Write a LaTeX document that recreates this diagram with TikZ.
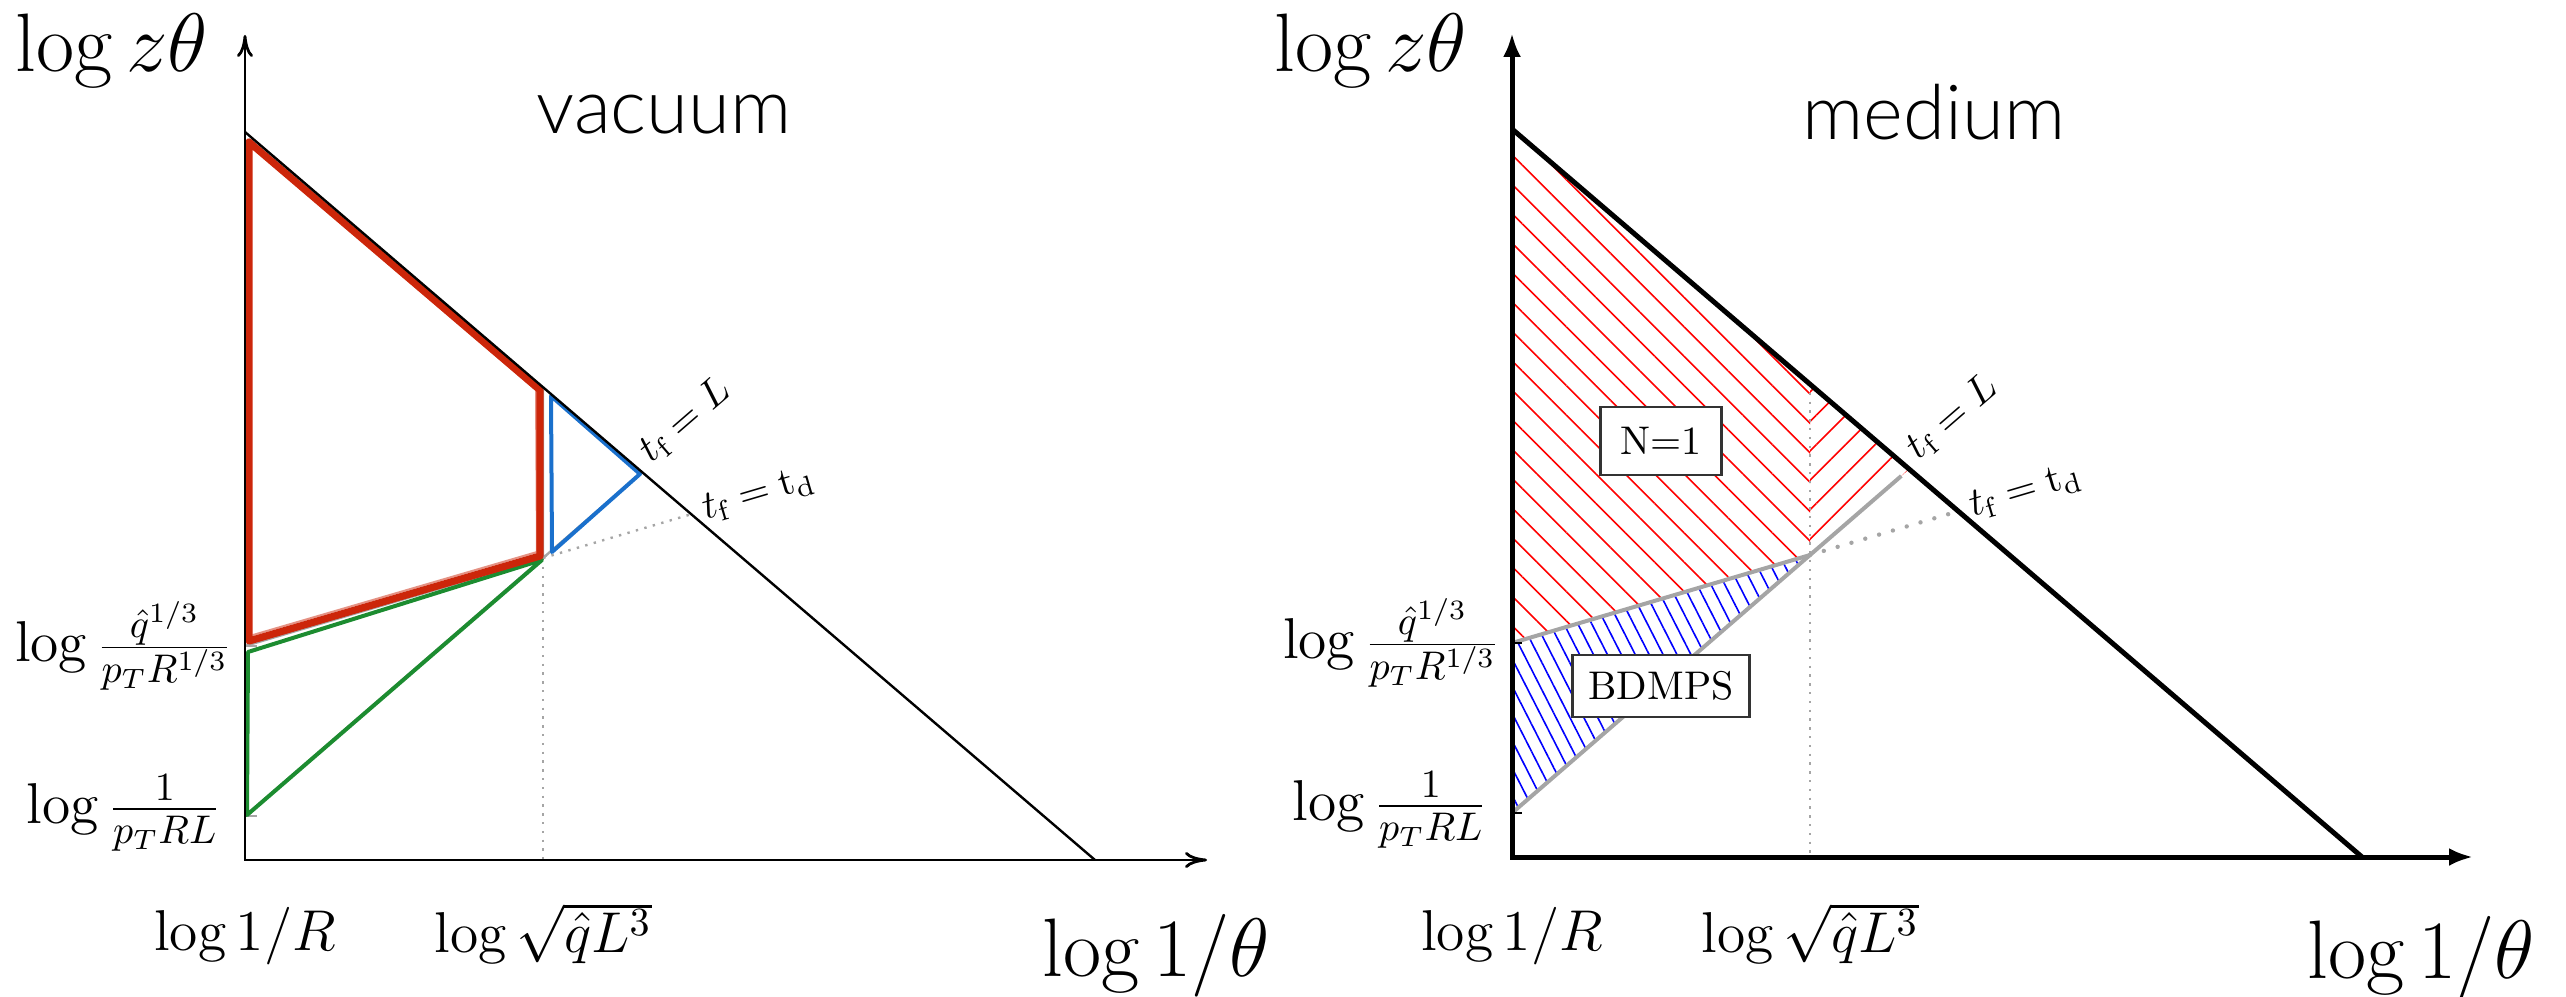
\documentclass[tikz,border=0pt]{standalone}
\usepackage{fontspec}
\newfontfamily\gillfont{Lato Light}
\usetikzlibrary{arrows.meta,calc,patterns.meta}
\definecolor{sketchred}{RGB}{204,38,10}
\definecolor{sketchgreen}{RGB}{28,140,48}
\definecolor{sketchblue}{RGB}{26,112,204}
\definecolor{guidegrey}{RGB}{165,165,165}
\tikzset{
  guide/.style={draw=guidegrey, line width=0.6pt},
  guidedots/.style={draw=guidegrey, line width=0.6pt, dash pattern=on 0.6pt off 1.6pt},
  heavydots/.style={draw=guidegrey, line width=1.1pt, dash pattern=on 0pt off 3.6pt, line cap=round},
  greyline/.style={draw=guidegrey, line width=1pt},
  sketch/.style={draw=#1, line width=1pt, line join=round, line cap=round},
  thinaxis/.style={line width=0.7pt, {To[length=5.5pt,width=4pt]}-{To[length=5.5pt,width=4pt]}},
  thickaxis/.style={line width=1.25pt, {Latex[length=6pt,width=4.5pt]}-{Latex[length=6pt,width=4.5pt]}},
  ticklabel/.style={font=\Large, inner sep=0pt},
  axislabel/.style={font=\huge, inner sep=0pt},
  paneltitle/.style={font=\gillfont\fontsize{19}{23}\selectfont, inner sep=0pt, anchor=base},
  tag/.style={draw=black!80, fill=white, line width=0.6pt, inner xsep=4pt, minimum height=15.5pt},
  tflabel/.style={sloped, pos=1, inner sep=3pt}
}

\begin{document}
\begin{tikzpicture}[x=25pt, y=25pt]
\useasboundingbox (-2.45,-1.36) rectangle (23.21,8.60);

% vacuum
\begin{scope}
  \coordinate (vT) at (0,7.28);
  \coordinate (vX) at (8.5,0);
  \coordinate (vQ) at (0,2.14);
  \coordinate (vB) at (0,0.44);
  \coordinate (vP) at (2.98,3.02);
  \coordinate (vD) at (2.98,4.73);
  \coordinate (vE) at (intersection of vB--vP and vT--vX);
  \coordinate (vF) at (intersection of vQ--vP and vT--vX);

  \draw[guide] (vD) -- (vP) -- (vE);
  \draw[guide] (vQ) -- (vP) -- (vB);
  \draw[guide] (vQ) -- ++(0.12,0);
  \draw[guide] (vB) -- ++(0.12,0);
  \draw[guidedots] (vP) -- (vF);
  \draw[guidedots] (vP) -- (vP |- 0,0);

  \draw[sketch=sketchgreen] (0.03,2.08) -- (2.97,3.00) -- (0.02,0.45) -- cycle;
  \draw[sketch=sketchred, line width=1.8pt] (0.04,7.18) -- (2.95,4.70) -- (2.95,3.04) -- (0.04,2.19) -- cycle;
  \draw[sketch=sketchred, line width=0.5pt, opacity=0.5] (0.08,7.12) -- (2.91,4.70) -- (2.92,3.08) -- (0.08,2.25);
  \draw[sketch=sketchblue] (3.06,4.64) -- (3.95,3.86) -- (3.07,3.08) -- cycle;

  \draw[thinaxis] (0,8.25) -- (0,0) -- (9.62,0);
  \draw[line width=0.6pt] (vT) -- (vX);

  \path (vP) -- (vE) node[tflabel, anchor=base west] (vtfL) {$t_\mathrm{f}=L$};
  \path (vP) -- (vF) node[tflabel, anchor=west] (vtfd) {$t_\mathrm{f}=\mathrm{t}_\mathrm{d}$};

  \node[axislabel, anchor=base east] (vylab) at (-0.36,7.88) {$\log z\theta$};
  \node[axislabel, anchor=base] (vxlab) at (9.11,-1.16) {$\log 1/\theta$};
  \node[paneltitle] (vtitle) at (4.19,7.26) {vacuum};
  \node[ticklabel, anchor=east] (vqlab) at (-0.12,2.14) {$\log\frac{\hat q^{1/3}}{p_TR^{1/3}}$};
  \node[ticklabel, anchor=east] (vllab) at (-0.23,0.47) {$\log\frac{1}{p_TRL}$};
  \node[ticklabel, anchor=base] (vrlab) at (0,-0.90) {$\log 1/R$};
  \node[ticklabel, anchor=base] (vsqlab) at (2.98,-0.92) {$\log\sqrt{\hat qL^3}$};
\end{scope}

% medium
\begin{scope}[shift={(12.67,0.03)}]
  \coordinate (mT) at (0,7.28);
  \coordinate (mX) at (8.5,0);
  \coordinate (mQ) at (0,2.14);
  \coordinate (mB) at (0,0.44);
  \coordinate (mP) at (2.98,3.02);
  \coordinate (mD) at (2.98,4.73);
  \coordinate (mE) at (intersection of mB--mP and mT--mX);
  \coordinate (mF) at (intersection of mQ--mP and mT--mX);

  \fill[pattern={Lines[angle=-45,distance=5.2pt,line width=0.4pt]}, pattern color=red] (mT) -- (mD) -- (mP) -- (mQ) -- cycle;
  \fill[pattern={Lines[angle=45,distance=5.2pt,line width=0.4pt]}, pattern color=red] (mD) -- (mE) -- (mP) -- cycle;
  \fill[pattern={Lines[angle=-63,distance=3.1pt,line width=0.4pt]}, pattern color=blue] (mQ) -- (mP) -- (mB) -- cycle;

  \draw[guidedots] (mD) -- (mP |- 0,0);
  \draw[heavydots] (mP) -- (mF);
  \draw[greyline] (mQ) -- (mP);
  \draw[greyline] (mB) -- (mP) -- ($(mP)!0.92!(mE)$);
  \draw[line width=0.6pt] (mQ) -- ++(0.1,0);
  \draw[line width=0.6pt] (mB) -- ++(0.1,0);

  \draw[thickaxis] (0,8.24) -- (0,0) -- (9.61,0);
  \draw[line width=1.25pt] (mT) -- (mX);

  \path (mP) -- (mE) node[tflabel, anchor=base west] (mtfL) {$t_\mathrm{f}=L$};
  \path (mP) -- (mF) node[tflabel, anchor=west] (mtfd) {$t_\mathrm{f}=\mathrm{t}_\mathrm{d}$};

  \node[tag, inner xsep=5pt, minimum height=17pt] (none) at (1.49,4.16) {N=1};
  \node[tag] (bdmps) at (1.49,1.71) {BDMPS};

  \node[axislabel, anchor=base east] (mylab) at (-0.44,7.85) {$\log z\theta$};
  \node[axislabel, anchor=base] (mxlab) at (9.09,-1.21) {$\log 1/\theta$};
  \node[paneltitle] (mtitle) at (4.22,7.17) {medium};
  \node[ticklabel, anchor=east] (mqlab) at (-0.11,2.14) {$\log\frac{\hat q^{1/3}}{p_TR^{1/3}}$};
  \node[ticklabel, anchor=east] (mllab) at (-0.24,0.47) {$\log\frac{1}{p_TRL}$};
  \node[ticklabel, anchor=base] (mrlab) at (0,-0.93) {$\log 1/R$};
  \node[ticklabel, anchor=base] (msqlab) at (2.98,-0.95) {$\log\sqrt{\hat qL^3}$};
\end{scope}
\end{tikzpicture}
\end{document}
